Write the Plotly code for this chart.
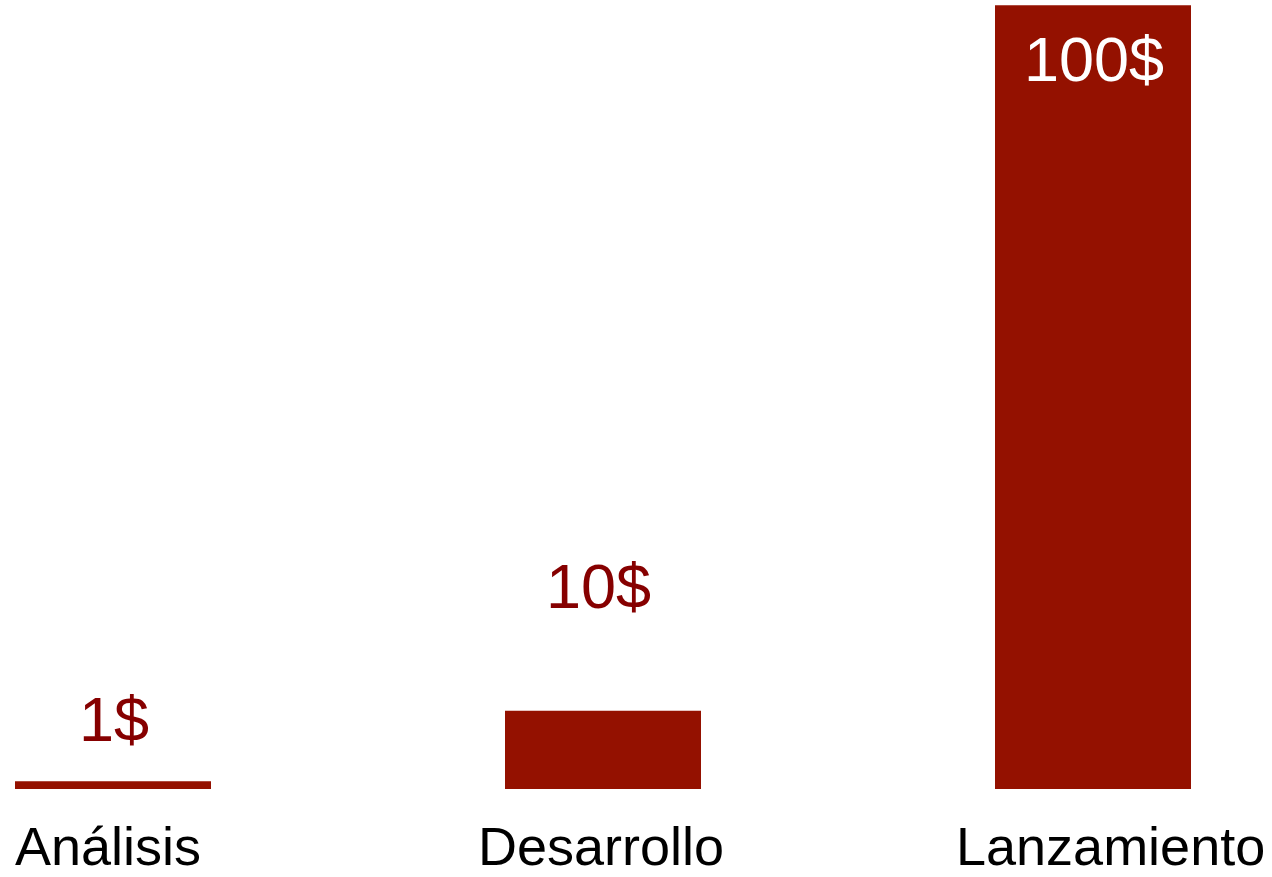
import plotly.graph_objects as go

categories = ["Análisis", "Desarrollo", "Lanzamiento"]
values = [1, 10, 100]
value_labels = ["1$", "10$", "100$"]

bar_color = "#941100"
label_colors = ["#860000", "#860000", "#FFFFFF"]
label_shifts = [62, 125, -54]  # pixel offsets from bar top (style)
label_xshifts = [1, -5, 1]
cat_xshifts = [-5, -2, 17]
FONT = "Liberation Sans, Arial, sans-serif"

fig = go.Figure(
    go.Bar(
        x=categories,
        y=values,
        width=0.4,
        marker=dict(color=bar_color, line=dict(width=0)),
        hoverinfo="skip",
    )
)

for cat, v, txt, col, sh, xs in zip(categories, values, value_labels, label_colors, label_shifts, label_xshifts):
    fig.add_annotation(
        x=cat, y=v, text=txt, showarrow=False,
        xanchor="center", yanchor="middle", yshift=sh, xshift=xs,
        font=dict(family=FONT, size=63, color=col),
    )

for cat, xs in zip(categories, cat_xshifts):
    fig.add_annotation(
        x=cat, y=0, text=cat, showarrow=False, borderpad=0,
        xanchor="center", yanchor="bottom", yshift=-88, xshift=xs,
        font=dict(family=FONT, size=54, color="black"),
    )

fig.update_layout(
    width=1272, height=877,
    margin=dict(l=0, r=0, t=0, b=88, pad=0),
    paper_bgcolor="white", plot_bgcolor="white",
    showlegend=False,
    xaxis=dict(
        range=[-113 / 490, (1272 - 113) / 490],
        showgrid=False, zeroline=False, showline=False, ticks="",
        showticklabels=False,
    ),
    yaxis=dict(
        range=[0, 788.7 / 7.834],
        showgrid=False, zeroline=False, showline=False, showticklabels=False, ticks="",
    ),
)

fig.write_html("out.html")
